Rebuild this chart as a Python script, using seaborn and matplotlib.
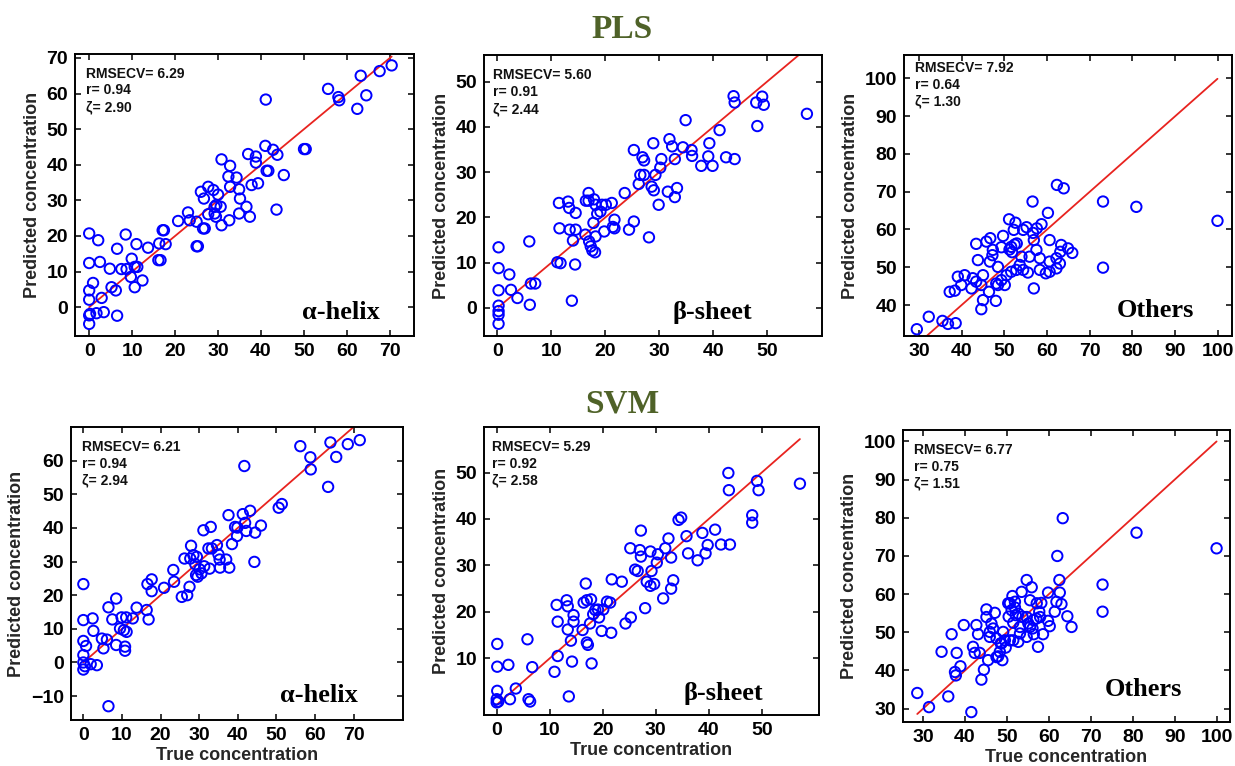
import matplotlib
matplotlib.use("Agg")
import matplotlib.pyplot as plt
import pandas as pd
import seaborn as sns

# ---------------------------------------------------------------------------
# Cross-validated predictions: (true concentration, predicted concentration)
# ---------------------------------------------------------------------------
pls_helix = [
    (0, 20.7), (0, 12.4), (0, 4.7), (0, 2.1), (0, -2.3), (0, -4.7), (0.2, -1.9),
    (0.9, 6.8), (2.1, 18.8), (2.5, 12.7), (2.9, 2.6), (1.7, -1.7), (3.4, -1.4),
    (4.8, 10.8), (5.2, 5.6), (6.2, 4.7), (6.5, 16.4), (6.5, -2.4), (7.5, 10.7),
    (8.5, 20.4), (8.7, 10.7), (9.7, 8.5), (9.9, 13.6), (10.6, 11.3), (10.6, 5.6),
    (11.0, 17.7), (11.2, 11.3), (12.4, 7.5), (13.7, 16.7), (16.1, 13.2),
    (16.6, 13.2), (16.3, 17.9), (17.1, 21.6), (17.4, 21.6), (17.8, 17.7),
    (20.7, 24.2), (23.0, 26.6), (23.4, 24.4), (25.0, 24.0), (25.0, 17.1),
    (25.3, 17.1), (26.0, 32.4), (26.5, 22.1), (26.9, 22.1), (26.7, 30.5),
    (27.7, 33.8), (27.7, 26.1), (28.9, 32.9), (29.2, 28.2), (29.2, 26.3),
    (29.6, 28.7), (29.5, 25.4), (30.0, 31.6), (30.6, 28.2), (30.8, 41.5),
    (30.8, 23.0), (32.6, 24.4), (32.8, 39.7), (32.4, 36.7), (32.8, 33.8),
    (34.3, 36.4), (34.9, 33.1), (35.1, 30.5), (34.9, 26.3), (36.6, 28.2),
    (37.0, 43.0), (37.4, 25.4), (37.8, 34.3), (38.8, 42.3), (38.8, 40.6),
    (39.3, 34.8), (41.1, 58.3), (41.0, 45.3), (41.3, 38.3), (41.7, 38.3),
    (42.8, 44.2), (43.8, 42.8), (43.6, 27.4), (45.3, 37.1), (50.0, 44.4),
    (50.4, 44.4), (55.6, 61.3), (58.0, 59.0), (58.2, 58.1), (62.4, 55.7),
    (63.2, 65.0), (64.5, 59.5), (67.6, 66.3), (70.4, 67.9),
]

pls_sheet = [
    (0.2, 13.4), (0.2, 8.8), (0.2, 3.9), (0.2, 0.5), (0.2, -0.7), (0.2, -1.5),
    (0.2, -3.5), (2.2, 7.4), (2.5, 4.0), (3.7, 2.2), (5.9, 14.7), (6.0, 0.7),
    (6.2, 5.4), (7.0, 5.4), (11.1, 10.1), (11.7, 9.9), (11.4, 23.2), (11.5, 17.6),
    (13.1, 23.5), (13.3, 22.1), (13.4, 17.3), (13.8, 1.6), (14.0, 14.9),
    (14.4, 9.6), (14.5, 21.0), (14.5, 17.3), (16.3, 16.2), (16.4, 23.7),
    (16.9, 25.4), (16.9, 23.7), (17.0, 14.7), (17.3, 13.6), (17.6, 12.7),
    (17.9, 24.0), (17.8, 18.8), (18.1, 12.3), (18.2, 15.8), (18.2, 22.8),
    (18.5, 20.8), (19.1, 21.3), (19.4, 22.8), (19.8, 16.9), (20.1, 22.8),
    (21.2, 23.2), (21.4, 17.9), (21.7, 19.5), (21.7, 17.6), (23.6, 25.4),
    (24.4, 17.3), (25.3, 34.9), (25.3, 19.1), (26.2, 27.4), (26.5, 29.4),
    (26.9, 33.3), (27.2, 32.6), (27.2, 29.4), (28.1, 15.6), (28.6, 26.8),
    (28.9, 36.4), (29.0, 26.0), (29.3, 29.4), (29.9, 22.8), (30.2, 31.0),
    (30.4, 32.9), (31.6, 25.7), (31.9, 37.3), (32.4, 35.7), (32.9, 24.5),
    (32.9, 32.9), (33.3, 26.5), (34.4, 35.5), (34.9, 41.5), (36.0, 34.9),
    (36.1, 33.6), (37.8, 31.4), (39.1, 33.5), (39.3, 36.4), (39.9, 31.4),
    (41.2, 39.3), (42.4, 33.3), (43.8, 46.8), (44.0, 45.4), (44.0, 32.9),
    (48.0, 45.4), (48.2, 40.2), (49.1, 46.7), (49.4, 44.9), (57.4, 42.9),
]

pls_other = [
    (29.5, 33.6), (32.3, 36.9), (35.5, 35.8), (36.8, 35.0), (38.6, 35.2),
    (37.2, 43.5), (38.4, 43.8), (39.1, 47.5), (39.9, 45.3), (40.7, 47.9),
    (42.3, 44.4), (42.6, 47.1), (43.4, 46.2), (43.4, 56.2), (43.8, 51.9),
    (44.6, 38.9), (45.0, 47.9), (45.0, 41.3), (44.6, 45.3), (45.8, 56.8),
    (46.4, 43.5), (46.6, 51.5), (46.7, 57.7), (47.3, 54.6), (47.2, 53.2),
    (48.0, 41.1), (48.5, 50.1), (48.1, 45.7), (48.5, 45.3), (49.3, 46.6),
    (50.1, 45.3), (49.3, 55.3), (49.7, 58.3), (50.5, 47.9), (51.6, 48.8),
    (51.1, 62.7), (52.2, 59.9), (52.6, 61.8), (51.2, 54.7), (51.6, 55.4),
    (52.4, 56.0), (52.9, 56.3), (51.8, 54.0), (53.6, 50.6), (52.8, 49.3),
    (54.4, 49.3), (54.0, 52.8), (55.5, 48.6), (55.2, 60.6), (54.4, 59.9),
    (55.9, 52.8), (56.6, 67.4), (56.9, 57.2), (56.9, 44.4), (56.7, 59.1),
    (57.6, 60.3), (57.5, 54.6), (58.3, 52.4), (58.3, 49.3), (58.7, 61.4),
    (59.7, 48.4), (60.2, 64.4), (60.6, 57.2), (60.6, 51.5), (60.6, 48.8),
    (62.2, 52.4), (62.2, 49.7), (62.3, 71.8), (63.0, 51.0), (63.1, 54.1),
    (63.3, 55.9), (63.9, 70.9), (64.9, 55.0), (65.9, 53.8),
    (73.1, 67.4), (73.1, 49.9), (80.9, 66.0), (99.9, 62.3),
]

svm_helix = [
    (0, 23.3), (0, 12.6), (0, 6.4), (0.7, 4.9), (0, 2.2), (0, 0.0), (0, -2.1),
    (0.4, -1.1), (2.4, 13.1), (2.6, 9.4), (1.9, -0.5), (3.5, -0.8), (4.8, 7.1),
    (5.2, 4.2), (6.1, 6.8), (6.5, 16.4), (6.5, -13.0), (7.5, 12.8), (8.5, 19.0),
    (8.5, 5.2), (9.5, 10.1), (9.9, 13.4), (10.5, 9.6), (10.8, 4.7), (10.8, 3.5),
    (11.1, 13.4), (11.2, 9.1), (12.8, 13.1), (13.8, 16.3), (16.4, 15.6),
    (16.6, 23.3), (16.9, 12.8), (17.7, 24.7), (17.7, 21.2), (20.9, 22.2),
    (23.3, 27.5), (23.5, 24.0), (25.5, 19.5), (26.2, 30.9), (26.9, 20.0),
    (27.5, 22.5), (27.7, 30.9), (27.9, 34.7), (28.5, 31.9), (29.0, 29.2),
    (29.4, 31.4), (29.2, 26.0), (29.6, 25.5), (30.1, 27.7), (30.6, 26.5),
    (31.1, 39.3), (31.3, 28.6), (32.4, 33.9), (32.7, 27.9), (33.0, 40.3),
    (33.3, 33.9), (34.6, 34.9), (35.0, 32.1), (35.3, 30.6), (35.4, 28.2),
    (37.0, 30.6), (37.6, 43.8), (37.8, 28.2), (38.5, 35.2), (39.3, 40.3),
    (39.8, 37.6), (39.9, 40.1), (41.3, 44.1), (41.7, 58.4), (41.9, 41.5),
    (42.2, 39.1), (43.2, 45.1), (44.3, 29.9), (44.5, 38.6), (46.0, 40.7),
    (50.6, 46.0), (51.4, 47.1), (56.2, 64.3), (58.8, 61.0), (58.9, 57.4),
    (63.4, 52.2), (64.0, 65.4), (65.5, 61.1), (68.5, 64.9), (71.6, 66.1),
]

svm_sheet = [
    (0.1, 13.1), (0.1, 8.2), (0.1, 3.0), (0, 1.2), (0.3, 0.7), (0, 0.5),
    (2.2, 8.6), (2.5, 1.2), (3.6, 3.5), (5.8, 14.1), (6.0, 1.2), (6.3, 0.7),
    (6.7, 8.1), (10.9, 7.1), (11.5, 10.5), (11.3, 21.5), (11.5, 17.9),
    (13.2, 22.5), (13.4, 21.2), (13.4, 16.2), (13.6, 1.8), (14.0, 13.8),
    (14.2, 9.3), (14.5, 19.3), (14.5, 17.9), (16.2, 16.1), (16.4, 22.0),
    (16.8, 26.1), (17.0, 22.5), (17.0, 13.4), (17.2, 12.9), (17.6, 17.5),
    (17.8, 22.7), (17.9, 8.9), (18.2, 19.5), (18.6, 20.4), (19.1, 20.5),
    (19.3, 18.8), (19.8, 15.9), (20.1, 20.5), (20.8, 22.2), (21.4, 22.0),
    (21.6, 15.5), (21.7, 27.0), (23.6, 26.5), (24.3, 17.5), (25.2, 33.7),
    (25.3, 18.8), (26.1, 29.1), (26.6, 28.8), (27.0, 33.3), (27.2, 31.9),
    (27.2, 37.5), (28.0, 20.8), (28.3, 26.5), (29.0, 33.0), (29.0, 25.6),
    (29.2, 28.8), (29.7, 26.0), (30.2, 30.6), (30.4, 32.4), (31.4, 22.9),
    (31.8, 33.7), (32.4, 35.8), (32.9, 31.7), (32.9, 25.0), (33.3, 26.8),
    (34.3, 39.8), (34.8, 40.3), (35.8, 36.3), (36.1, 32.6), (37.9, 31.1),
    (38.8, 37.0), (39.4, 32.6), (39.8, 34.4), (41.2, 37.7), (42.3, 34.5),
    (43.7, 49.9), (43.8, 46.2), (44.0, 34.5), (48.2, 40.8), (48.2, 39.2),
    (49.1, 48.2), (49.4, 46.2), (57.2, 47.6),
]

svm_other = [
    (28.6, 34.1), (31.4, 30.4), (36.0, 33.2), (41.5, 29.1), (34.4, 44.9),
    (36.8, 49.5), (38.0, 44.6), (37.6, 39.6), (37.8, 38.7), (38.9, 41.1),
    (39.7, 51.9), (42.7, 51.9), (41.9, 46.2), (42.3, 44.6), (43.1, 49.5),
    (43.5, 44.6), (43.9, 37.6), (44.5, 40.2), (45.1, 56.0), (45.5, 42.7),
    (45.9, 50.1), (46.3, 52.3), (46.7, 51.0), (47.1, 55.1), (47.5, 48.4),
    (47.9, 43.7), (48.5, 47.1), (48.9, 42.7), (49.1, 50.1), (49.5, 47.9),
    (49.7, 46.0), (50.3, 57.6), (50.4, 54.1), (50.7, 47.9), (51.1, 55.8),
    (51.3, 59.5), (51.5, 52.5), (51.9, 58.0), (52.1, 54.5), (52.7, 47.5),
    (53.1, 51.4), (53.5, 60.6), (53.7, 54.1), (54.7, 63.7), (54.7, 48.8),
    (55.1, 52.3), (55.5, 58.4), (55.9, 61.8), (56.1, 51.0), (56.4, 49.5),
    (57.0, 53.6), (57.4, 46.2), (57.7, 55.4), (58.2, 57.7), (58.6, 49.5),
    (59.8, 60.4), (59.8, 53.0), (60.2, 51.6), (61.4, 55.4), (61.8, 58.0),
    (62.0, 70.0), (62.5, 63.7), (62.6, 60.4), (63.0, 57.4), (63.3, 79.9),
    (64.4, 54.2), (65.4, 51.4), (72.8, 62.5), (72.8, 55.4), (80.9, 76.1),
    (100.0, 72.0),
    (50.7, 57.6), (51.9, 56.5), (52.7, 54.9), (54.7, 54.0), (56.3, 53.2),
    (57.9, 54.0), (55.5, 51.4), (53.1, 49.7), (51.5, 47.9), (48.7, 47.1),
    (48.3, 44.9), (47.5, 43.5), (45.9, 48.8), (45.1, 54.0), (57.1, 57.6),
]

# Cross-validation statistics shown in each panel
rmsecv = [6.29, 5.60, 7.92, 6.21, 5.29, 6.77]
r_vals = [0.94, 0.91, 0.64, 0.94, 0.92, 0.75]
zeta = [2.90, 2.44, 1.30, 2.94, 2.58, 1.51]

structure_names = ["\u03b1-helix", "\u03b2-sheet", "Others"]
method_names = ["PLS", "SVM"]

helix_ticks = [0, 10, 20, 30, 40, 50, 60, 70]
sheet_ticks = [0, 10, 20, 30, 40, 50]
other_xticks = [30, 40, 50, 60, 70, 80, 90, 100]
pls_helix_yticks = [0, 10, 20, 30, 40, 50, 60, 70]
pls_sheet_yticks = [0, 10, 20, 30, 40, 50]
pls_other_yticks = [40, 50, 60, 70, 80, 90, 100]
svm_helix_yticks = [-10, 0, 10, 20, 30, 40, 50, 60]
svm_sheet_yticks = [10, 20, 30, 40, 50]
svm_other_yticks = [30, 40, 50, 60, 70, 80, 90, 100]

# ---------------------------------------------------------------------------
sns.set_theme(style="ticks")
plt.rcParams["font.family"] = ["Liberation Sans", "DejaVu Sans"]
plt.rcParams["font.weight"] = "bold"
plt.rcParams["axes.labelweight"] = "bold"

W, H = 1235, 766
fig = plt.figure(figsize=(W / 100, H / 100), dpi=100)
fig.patch.set_facecolor("white")


def px_rect(left, top, right, bottom):
    return [left / W, 1 - bottom / H, (right - left) / W, (bottom - top) / H]


panels = [
    dict(data=pls_helix, rect=px_rect(75, 54, 414, 336), xlim=(-3.3, 75.6), ylim=(-8.1, 71.1),
         xticks=helix_ticks, yticks=pls_helix_yticks, lab=(0.67, 0.085), stat=(0.032, 0.955)),
    dict(data=pls_sheet, rect=px_rect(484, 55, 822, 336), xlim=(-2.5, 60.2), ylim=(-6.2, 55.9),
         xticks=sheet_ticks, yticks=pls_sheet_yticks, lab=(0.559, 0.085), stat=(0.027, 0.952)),
    dict(data=pls_other, rect=px_rect(904, 55, 1232, 336), xlim=(26.5, 103.3), ylim=(31.8, 106.2),
         xticks=other_xticks, yticks=pls_other_yticks, lab=(0.649, 0.089), stat=(0.034, 0.978)),
    dict(data=svm_helix, rect=px_rect(71, 427, 403, 720), xlim=(-3.2, 82.8), ylim=(-17.1, 70.0),
         xticks=helix_ticks, yticks=svm_helix_yticks, lab=(0.63, 0.085), stat=(0.033, 0.955)),
    dict(data=svm_sheet, rect=px_rect(484, 427, 819, 715), xlim=(-2.4, 60.8), ylim=(-2.2, 59.8),
         xticks=sheet_ticks, yticks=svm_sheet_yticks, lab=(0.597, 0.076), stat=(0.024, 0.955)),
    dict(data=svm_other, rect=px_rect(903, 430, 1230, 722), xlim=(25.2, 103.2), ylim=(26.5, 103.0),
         xticks=other_xticks, yticks=svm_other_yticks, lab=(0.618, 0.11), stat=(0.034, 0.955)),
]

for i, p in enumerate(panels):
    ax = fig.add_axes(p["rect"])
    df = pd.DataFrame(p["data"], columns=["true", "pred"])

    # identity line spanning the range of true values
    lo, hi = df["true"].min(), df["true"].max()
    ax.plot([lo, hi], [lo, hi], color="#e8231f", lw=1.3, zorder=2)

    sns.scatterplot(data=df, x="true", y="pred", ax=ax, marker="o", s=56,
                    facecolors="none", edgecolor="#0000ff", linewidth=1.4,
                    zorder=3, legend=False)

    ax.set_xlim(*p["xlim"])
    ax.set_ylim(*p["ylim"])
    ax.set_xticks(p["xticks"])
    ax.set_yticks(p["yticks"])
    ax.tick_params(direction="in", top=True, right=True, length=4, width=1.1,
                   labelsize=14, pad=5, colors="black")
    for lbl in ax.get_xticklabels() + ax.get_yticklabels():
        lbl.set_fontweight("bold")
    for sp in ax.spines.values():
        sp.set_linewidth(1.4)
        sp.set_color("black")
        sp.set_visible(True)

    ax.set_ylabel("Predicted concentration", fontsize=13, fontweight="bold", labelpad=4)
    if i >= 3:
        ax.set_xlabel("True concentration", fontsize=13, fontweight="bold", labelpad=2)
    else:
        ax.set_xlabel("")

    ax.text(p["stat"][0], p["stat"][1],
            f"RMSECV= {rmsecv[i]:.2f}\nr= {r_vals[i]:.2f}\n\u03b6= {zeta[i]:.2f}",
            transform=ax.transAxes, ha="left", va="top", fontsize=10,
            fontweight="bold", linespacing=1.25, color="#111111")

    ax.text(p["lab"][0], p["lab"][1], structure_names[i % 3], transform=ax.transAxes,
            ha="left", va="center", fontsize=19, fontweight="bold",
            family=["Liberation Serif", "DejaVu Serif"], color="black")

# method headings
fig.text(622 / W, 1 - 30 / H, method_names[0], ha="center", va="center", fontsize=24,
         fontweight="bold", family=["Liberation Serif", "DejaVu Serif"], color="#4f6228")
fig.text(622 / W, 1 - 404 / H, method_names[1], ha="center", va="center", fontsize=24,
         fontweight="bold", family=["Liberation Serif", "DejaVu Serif"], color="#4f6228")

fig.savefig("out.png", dpi=100, facecolor="white")
